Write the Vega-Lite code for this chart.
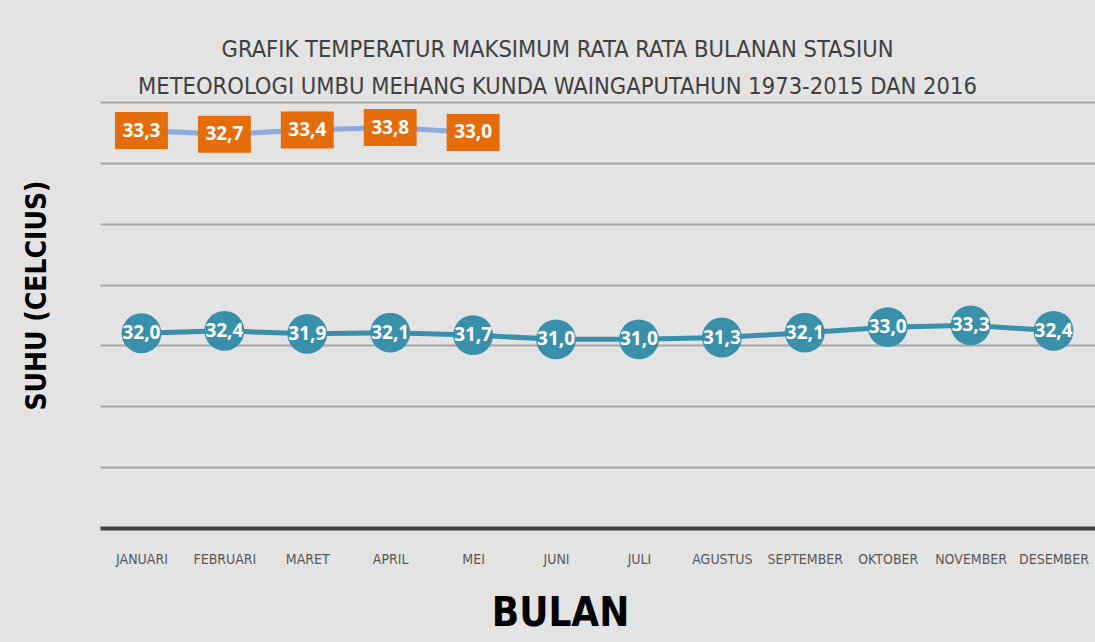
{
  "$schema": "https://vega.github.io/schema/vega-lite/v6.json",
  "autosize": {"type": "none"},
  "width": 995,
  "height": 426,
  "padding": {"left": 100, "top": 102, "right": 0, "bottom": 114},
  "background": "#e3e3e3",
  "title": {
    "text": ["GRAFIK TEMPERATUR MAKSIMUM RATA RATA BULANAN STASIUN", "METEOROLOGI UMBU MEHANG KUNDA WAINGAPUTAHUN 1973-2015 DAN 2016"],
    "font": "DejaVu Sans Condensed",
    "fontSize": 23.5,
    "fontWeight": "normal",
    "color": "#404040",
    "lineHeight": 37,
    "anchor": "middle",
    "dx": -40,
    "offset": 4
  },
  "datasets": {
    "normal": [
      {"bulan": "JANUARI", "suhu": 32.0},
      {"bulan": "FEBRUARI", "suhu": 32.4},
      {"bulan": "MARET", "suhu": 31.9},
      {"bulan": "APRIL", "suhu": 32.1},
      {"bulan": "MEI", "suhu": 31.7},
      {"bulan": "JUNI", "suhu": 31.0},
      {"bulan": "JULI", "suhu": 31.0},
      {"bulan": "AGUSTUS", "suhu": 31.3},
      {"bulan": "SEPTEMBER", "suhu": 32.1},
      {"bulan": "OKTOBER", "suhu": 33.0},
      {"bulan": "NOVEMBER", "suhu": 33.3},
      {"bulan": "DESEMBER", "suhu": 32.4}
    ],
    "tahun2016": [
      {"bulan": "JANUARI", "suhu": 33.3},
      {"bulan": "FEBRUARI", "suhu": 32.7},
      {"bulan": "MARET", "suhu": 33.4},
      {"bulan": "APRIL", "suhu": 33.8},
      {"bulan": "MEI", "suhu": 33.0}
    ]
  },
  "encoding": {
    "x": {
      "field": "bulan",
      "type": "nominal",
      "sort": ["JANUARI", "FEBRUARI", "MARET", "APRIL", "MEI", "JUNI", "JULI", "AGUSTUS", "SEPTEMBER", "OKTOBER", "NOVEMBER", "DESEMBER"],
      "scale": {"type": "point", "padding": 0.5},
      "axis": {
        "title": "BULAN",
        "titleFont": "DejaVu Sans Condensed",
        "titleFontSize": 40,
        "titleFontWeight": "bold",
        "titleColor": "#000000",
        "titleX": 460,
        "titleY": 85,
        "titleAlign": "center",
        "titleBaseline": "middle",
        "labelAngle": 0,
        "labelFont": "DejaVu Sans Condensed",
        "labelFontSize": 14,
        "labelColor": "#595959",
        "labelPadding": 24,
        "ticks": false,
        "domainColor": "#404040",
        "domainWidth": 4,
        "grid": false
      }
    }
  },
  "layer": [
    {
      "data": {"name": "normal"},
      "encoding": {
        "y": {
          "field": "suhu",
          "type": "quantitative",
          "scale": {"domain": [0, 70], "nice": false, "zero": false},
          "axis": {
            "title": "SUHU (CELCIUS)",
            "titleFont": "DejaVu Sans Condensed",
            "titleFontSize": 28,
            "titleFontWeight": "bold",
            "titleColor": "#000000",
            "titleX": -63,
            "titleY": 193,
            "titleAlign": "center",
            "titleBaseline": "middle",
            "titleAngle": -90,
            "values": [0, 10, 20, 30, 40, 50, 60, 70],
            "labels": false,
            "ticks": false,
            "domain": false,
            "grid": true,
            "gridColor": "#a6a6a6",
            "gridWidth": 2
          }
        }
      },
      "layer": [
        {"mark": {"type": "line", "color": "#3A8FAA", "strokeWidth": 5}},
        {"mark": {"type": "point", "shape": "circle", "filled": true, "size": 1590, "color": "#3A8FAA", "opacity": 1}},
        {
          "mark": {"type": "text", "color": "#ffffff", "font": "Open Sans", "fontSize": 19, "fontWeight": "bold", "baseline": "middle", "align": "center"},
          "encoding": {"text": {"field": "suhu", "type": "quantitative", "format": ".1f"}}
        }
      ]
    },
    {
      "data": {"name": "tahun2016"},
      "encoding": {
        "y": {
          "field": "suhu",
          "type": "quantitative",
          "scale": {"domain": [-32, 38], "nice": false, "zero": false},
          "axis": null
        }
      },
      "layer": [
        {"mark": {"type": "line", "color": "#8FAADC", "strokeWidth": 5}},
        {"mark": {"type": "point", "shape": "M-1.43,-1H1.43V1H-1.43Z", "filled": true, "size": 1369, "color": "#E46C0A", "opacity": 1, "strokeWidth": 0}},
        {
          "mark": {"type": "text", "color": "#ffffff", "font": "Open Sans", "fontSize": 19, "fontWeight": "bold", "baseline": "middle", "align": "center"},
          "encoding": {"text": {"field": "suhu", "type": "quantitative", "format": ".1f"}}
        }
      ]
    }
  ],
  "resolve": {"scale": {"y": "independent"}},
  "config": {
    "view": {"stroke": null},
    "locale": {
      "number": {"decimal": ",", "thousands": ".", "grouping": [3], "currency": ["", ""]}
    }
  }
}
